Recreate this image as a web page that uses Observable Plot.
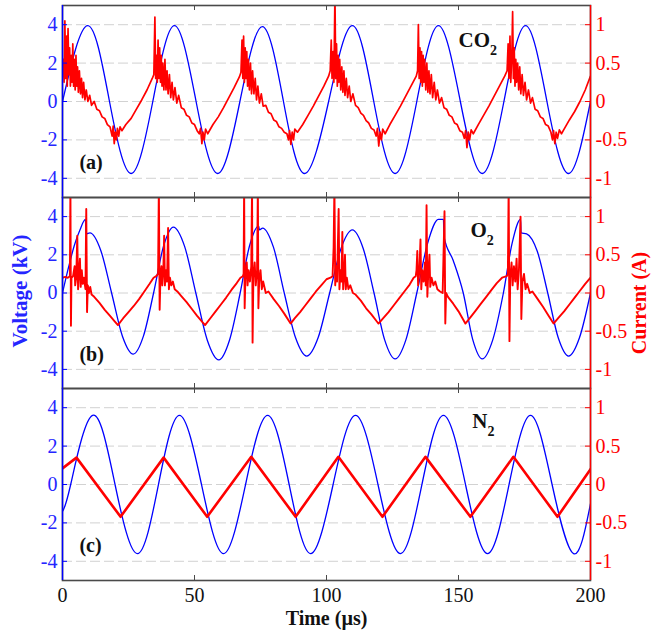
<!DOCTYPE html>
<html><head><meta charset="utf-8">
<script src="https://cdn.jsdelivr.net/npm/d3@7"></script>
<script src="https://cdn.jsdelivr.net/npm/@observablehq/plot@0.6"></script>
<style>
body{margin:0;background:#fff}
#chart{width:652px;height:637px;position:relative;background:#fff}
#chart svg{display:block;overflow:visible;font-family:"Liberation Serif","Times New Roman",serif !important}
#chart svg text{font-family:"Liberation Serif","Times New Roman",serif !important}
</style>
</head><body><div id="chart"></div>
<script>
// ---------- tick labels ----------
const timeDomain = [0, 200];
const timeTicks = [0, 50, 100, 150, 200];
const innerTimeTicks = [50, 100, 150];
const voltageDomain = [-5, 5];
const voltageTicks = [-4, -2, 0, 2, 4];
const currentTicks = [-1, -0.5, 0, 0.5, 1];
const panelTags = ["(a)", "(b)", "(c)"];
const gasNames = ["CO2", "O2", "N2"];
const gasPosT = [150, 154.5, 155.2];
const gasPosV = [3.2, 3.27, 3.3];
const tagPosT = 6.4, tagPosV = -3.2;
const voltageLabel = "Voltage (kV)";
const currentLabel = "Current (A)";
const timeLabel = "Time (µs)";

// ---------- series: [time µs, voltage kV] ----------
const voltageA = [[0,0],[9.6,3.95],[17.8,0],[26,-3.75],[34.2,0],[42.4,3.95],[50.6,0],[58.8,-3.75],[67.2,0],[75.7,3.9],[83.7,0],[91.7,-3.75],[100.8,0],[109.8,3.95],[117.9,0],[126,-3.75],[134.2,0],[142.4,3.95],[150.7,0],[159,-3.75],[167.2,0],[175.4,3.95],[183.5,0],[191.7,-3.75],[200,0]];
const voltageB = [[0,0],[2.3,1.35],[4.5,2.5],[6.6,3.3],[8.7,3.85],[8.9,3.1],[10.4,3.15],[14.5,2.23],[18.6,0],[22.7,-2.26],[26.8,-3.2],[30.65,-2.26],[34.5,0],[38.25,2.44],[42,3.45],[46.25,2.44],[50.5,0],[54.85,-2.47],[59.2,-3.5],[63.25,-2.47],[67.3,0],[70.8,2.45],[74.3,3.5],[74.6,3.3],[75.8,3.4],[79.9,2.4],[84,0],[88.25,-2.33],[92.5,-3.3],[96.85,-2.33],[101.2,0],[105.5,2.33],[109.8,3.3],[113.9,2.33],[118,0],[122,-2.44],[126,-3.45],[130.1,-2.44],[134.2,0],[138.3,2.6],[142.4,3.85],[144.3,3.85],[144.5,2.95],[148,1.7],[151.8,0],[155.4,-2.44],[159,-3.45],[163,-2.44],[167,0],[170.3,2.6],[173.5,3.85],[173.7,3.15],[175.8,3.1],[179.8,2.2],[183.8,0],[187.75,-2.33],[191.7,-3.3],[195.85,-2.33],[200,0]];
const voltageC = [[0,-1.4],[3.1,0],[11.4,3.6],[19.9,0],[28.4,-3.6],[36.35,0],[44.3,3.6],[52.65,0],[61,-3.6],[69.35,0],[77.7,3.6],[85.85,0],[94,-3.6],[102.5,0],[111,3.6],[119.5,0],[128,-3.6],[136.15,0],[144.3,3.6],[152.65,0],[161,-3.6],[169.15,0],[177.3,3.6],[185.45,0],[193.6,-3.6],[200,-1.0]];

// ---------- series: [time µs, current A] ----------
const currentA = [[0,0.33],[0.3,0.55],[0.6,0.25],[0.9,1.05],[1.2,0.3],[1.5,0.85],[1.8,0.2],[2.1,0.95],[2.4,0.35],[2.7,0.7],[3.0,0.2],[3.3,0.6],[3.6,0.25],[3.9,0.75],[4.2,0.2],[4.5,0.55],[4.8,0.15],[5.1,0.6],[5.4,0.2],[5.7,0.45],[6.0,0.12],[6.4,0.4],[6.8,0.1],[7.2,0.3],[7.6,0.05],[8.0,0.25],[8.5,0.02],[9.0,0.15],[9.6,0.0],[10.3,0.08],[11,-0.05],[12,0.0],[13,-0.1],[14,-0.12],[15,-0.2],[16,-0.22],[17,-0.3],[18,-0.33],[18.8,-0.45],[19.2,-0.32],[19.6,-0.55],[20,-0.4],[20.4,-0.5],[20.8,-0.35],[21.3,-0.45],[21.8,-0.33],[22.5,-0.38],
[24,-0.3],[26,-0.22],[28,-0.1],[30,0.02],[32,0.15],[34,0.3],
[34.6,0.35],[35,1.1],[35.3,0.3],[35.6,0.6],[35.9,0.25],[36.2,0.8],[36.5,0.3],[36.8,0.7],[37.1,0.25],[37.4,0.6],[37.7,0.2],[38,0.5],[38.4,0.15],[38.8,0.55],[39.2,0.15],[39.6,0.4],[40,0.1],[40.5,0.35],[41,0.05],[41.5,0.25],[42,0.02],[42.6,0.18],[43.3,-0.02],[44,0.08],[45,-0.08],[46,-0.1],[47,-0.18],[48,-0.2],[49,-0.28],[50,-0.3],[51,-0.38],[51.8,-0.42],[52.3,-0.35],[52.8,-0.55],[53.2,-0.4],[53.7,-0.5],[54.2,-0.36],[55,-0.42],
[57,-0.3],[59,-0.2],[61,-0.08],[63,0.05],[65,0.18],[67,0.32],
[67.6,0.38],[68,0.8],[68.3,0.3],[68.6,0.85],[68.9,0.25],[69.2,0.7],[69.5,0.3],[69.8,0.65],[70.1,0.2],[70.4,0.55],[70.8,0.15],[71.2,0.5],[71.6,0.1],[72,0.4],[72.5,0.1],[73,0.3],[73.5,0.02],[74,0.2],[74.6,-0.02],[75.3,0.1],[76,-0.06],[77,-0.05],[78,-0.14],[79,-0.16],[80,-0.24],[81,-0.26],[82,-0.33],[83,-0.35],[84,-0.4],[85,-0.42],[85.6,-0.5],[86,-0.38],[86.5,-0.56],[87,-0.4],[87.5,-0.5],[88,-0.36],[89,-0.4],
[91,-0.3],[93,-0.18],[95,-0.06],[97,0.07],[99,0.2],[100.8,0.33],
[101.4,0.4],[101.8,0.8],[102.1,0.3],[102.5,0.65],[102.8,0.25],[103.2,1.4],[103.5,0.3],[103.8,0.75],[104.1,0.2],[104.4,0.6],[104.7,0.25],[105,0.55],[105.4,0.15],[105.8,0.45],[106.2,0.12],[106.6,0.4],[107,0.08],[107.5,0.3],[108,0.05],[108.6,0.2],[109.2,0.0],[110,0.1],[111,-0.05],[112,-0.08],[113,-0.15],[114,-0.18],[115,-0.25],[116,-0.28],[117,-0.35],[118,-0.37],[118.8,-0.45],[119.3,-0.35],[119.8,-0.58],[120.3,-0.4],[120.8,-0.5],[121.3,-0.36],[122.2,-0.42],
[124,-0.3],[126,-0.18],[128,-0.06],[130,0.07],[132,0.2],[134,0.33],
[134.5,0.4],[134.8,1.0],[135.1,0.3],[135.4,0.7],[135.7,0.25],[136,0.65],[136.3,0.2],[136.6,0.6],[136.9,0.25],[137.2,0.55],[137.6,0.15],[138,0.5],[138.4,0.12],[138.8,0.4],[139.2,0.1],[139.7,0.35],[140.2,0.05],[140.8,0.25],[141.4,0.02],[142,0.15],[142.8,-0.02],[143.6,0.05],[144.5,-0.08],[145.5,-0.1],[146.5,-0.18],[147.5,-0.2],[148.5,-0.28],[149.5,-0.3],[150.5,-0.38],[151.5,-0.4],[152.2,-0.48],[152.7,-0.38],[153.2,-0.6],[153.7,-0.4],[154.2,-0.5],[154.8,-0.37],[155.6,-0.42],
[157.5,-0.3],[159.5,-0.18],[161.5,-0.06],[163.5,0.07],[165.5,0.2],[167.5,0.33],
[168.4,0.4],[168.8,0.75],[169.1,0.3],[169.5,0.85],[169.8,0.25],[170.2,0.6],[170.5,1.17],[170.8,0.3],[171.1,0.7],[171.4,0.2],[171.7,0.55],[172,0.25],[172.4,0.5],[172.8,0.15],[173.2,0.45],[173.6,0.1],[174.1,0.35],[174.6,0.08],[175.2,0.25],[175.8,0.02],[176.5,0.15],[177.3,-0.02],[178,0.05],[179,-0.1],[180,-0.12],[181,-0.2],[182,-0.22],[183,-0.3],[184,-0.32],[185,-0.4],[185.6,-0.5],[186,-0.38],[186.5,-0.55],[187,-0.4],[187.5,-0.48],[188.2,-0.37],[189,-0.42],
[190,-0.36],[192,-0.24],[194,-0.13],[196,0.0],[198,0.15],[200,0.33]];

const currentB = [[0,0.2],[1,0.21],[2,0.2],[2.8,0.22],[3.0,1.4],[3.2,-0.43],[3.4,0.2],[4,0.22],[4.6,0.35],[4.8,0.1],[5.2,0.2],[5.6,0.75],[5.9,0.05],[6.2,0.25],[6.6,0.45],[6.9,0.08],[7.3,0.3],[7.7,0.12],[8.1,0.2],[8.7,0.05],[9.0,1.1],[9.3,-0.25],[9.6,0.1],[10,0.0],[10.5,0.08],[11,-0.02],[12,-0.05],[14,-0.13],[16,-0.22],[18,-0.3],[20,-0.38],[21,-0.42],
[23,-0.33],[25,-0.25],[27,-0.17],[29,-0.08],[31,0.02],[33,0.12],[34.5,0.2],[35.5,0.22],
[36.2,0.25],[36.5,1.4],[36.8,-0.22],[37.1,0.2],[37.5,0.35],[37.8,0.1],[38.2,0.3],[38.5,0.75],[38.8,0.1],[39.2,0.3],[39.6,0.15],[40.0,0.85],[40.3,0.05],[40.7,0.2],[41.2,0.1],[41.8,0.15],[42.5,0.05],[43.5,0.02],[45,-0.04],[47,-0.12],[49,-0.21],[51,-0.3],[53,-0.38],[54,-0.42],
[56,-0.33],[58,-0.24],[60,-0.15],[62,-0.06],[64,0.04],[66,0.13],[67.4,0.2],[68.3,0.22],
[68.6,0.25],[68.8,1.4],[69.0,-0.2],[69.3,0.22],[69.8,0.4],[70.1,0.1],[70.5,0.3],[71,0.15],[71.5,0.35],[71.8,1.4],[72.0,-0.65],[72.3,0.2],[72.8,0.4],[73.2,0.1],[73.7,0.3],[74.0,1.4],[74.2,-0.2],[74.5,0.15],[75,0.3],[75.5,0.05],[76,0.15],[77,0.0],[78,0.02],[80,-0.08],[82,-0.17],[84,-0.27],[86.4,-0.4],
[88,-0.33],[90,-0.25],[92,-0.16],[94,-0.07],[96,0.02],[98,0.1],[100,0.18],[101.5,0.2],
[102.3,0.22],[102.7,0.6],[103.0,1.4],[103.3,0.1],[103.7,0.35],[104.0,0.15],[104.6,1.1],[104.9,0.05],[105.3,0.3],[105.7,0.15],[106.0,0.8],[106.3,0.05],[106.7,0.25],[107.0,0.5],[107.3,0.05],[107.7,0.2],[108.3,0.05],[109,0.1],[110,0.0],[111,-0.02],[113,-0.1],[115,-0.2],[117,-0.28],[119,-0.37],[119.7,-0.4],
[121.5,-0.33],[123.5,-0.25],[125.5,-0.16],[127.5,-0.07],[129.5,0.02],[131.5,0.11],[133,0.2],[133.8,0.22],
[134.1,0.3],[134.4,0.55],[134.7,0.1],[135.2,0.3],[135.6,0.7],[135.9,0.05],[136.3,0.3],[136.8,0.15],[137.3,0.4],[137.6,0.1],[137.9,1.15],[138.2,-0.05],[138.6,0.3],[139.0,0.5],[139.3,0.08],[139.8,0.2],[140.5,0.1],[141.2,0.15],[142,0.05],[143,0.02],[144,0.0],[144.7,1.07],[145,-0.4],[145.3,0.0],[146,-0.05],[148,-0.14],[150,-0.24],[152.6,-0.4],
[154.5,-0.32],[156.5,-0.23],[158.5,-0.14],[160.5,-0.05],[162.5,0.04],[164.5,0.13],[166.5,0.2],[168.3,0.22],
[168.7,0.25],[169.0,1.4],[169.3,-0.63],[169.6,0.2],[170.1,0.4],[170.5,0.1],[171,0.35],[171.5,0.15],[172,0.45],[172.4,0.05],[172.9,0.3],[173.5,1.0],[173.8,-0.34],[174.2,0.15],[174.8,0.25],[175.4,0.05],[176,0.12],[177,0.0],[178,0.02],[180,-0.08],[182,-0.18],[184,-0.29],[186,-0.4],
[188,-0.32],[190,-0.24],[192,-0.15],[194,-0.06],[196,0.03],[198,0.12],[200,0.2]];

const currentC = [[0,0.21],[5.3,0.35],[22,-0.42],[38.3,0.35],[54.8,-0.42],[71.5,0.36],[88.3,-0.42],[104.5,0.36],[121.2,-0.42],[137.5,0.36],[154.5,-0.42],[170.8,0.36],[187.5,-0.42],[200,0.2]];

// ---------- drawing ----------
const ampToKv = voltageTicks[voltageTicks.length - 1] / currentTicks[currentTicks.length - 1];
const rows = arr => arr.map(([t, v]) => ({t, v}));
const BLUE = "#0000ff", BLUE_TEXT = "#2525ff", RED = "#ff0000", DARK = "#4a4a4a";
const FONT = "Liberation Serif";
const WIDTH = 652, ML = 62, MR = 62, INNER_W = WIDTH - ML - MR;

function panel(o) {
  const innerH = o.height - o.marginTop - o.marginBottom;
  const marks = [
    Plot.gridY(voltageTicks, {stroke: "#b4b4b4", strokeOpacity: 0.6, strokeDasharray: "10,4"}),
    Plot.line(rows(o.voltage), {x: "t", y: "v", stroke: BLUE, strokeWidth: 1.3, curve: o.curve, clip: true}),
    Plot.line(rows(o.current), {x: "t", y: d => d.v * ampToKv, stroke: RED, strokeWidth: o.cw, clip: true, strokeLinejoin: "round"}),
    Plot.frame({stroke: DARK, strokeWidth: 1.6}),
    Plot.ruleX([timeDomain[0]], {stroke: BLUE, strokeWidth: 1.4}),
    Plot.ruleX([timeDomain[1]], {stroke: RED, strokeWidth: 1.4}),
    Plot.ruleY(voltageTicks, {stroke: BLUE, insetRight: INNER_W - 5}),
    Plot.ruleY(currentTicks.map(c => c * ampToKv), {stroke: RED, insetLeft: INNER_W - 5}),
    Plot.ruleX(innerTimeTicks, {stroke: DARK, insetBottom: innerH - 5}),
    Plot.ruleX(innerTimeTicks, {stroke: DARK, insetTop: innerH - 5}),
    Plot.axisY(voltageTicks, {anchor: "left", tickSize: 0, tickPadding: 5, tickFormat: d => String(d), color: BLUE_TEXT, fontSize: 20, fontFamily: FONT, label: null}),
    Plot.axisY(currentTicks.map(c => c * ampToKv), {anchor: "right", tickSize: 0, tickPadding: 5, tickFormat: d => String(d / ampToKv), color: RED, fontSize: 20, fontFamily: FONT, label: null}),
    Plot.text([{t: tagPosT, v: tagPosV, s: o.tag}], {x: "t", y: "v", text: "s", textAnchor: "start", fontWeight: "bold", fontSize: 20, fontFamily: FONT, fill: "#111"}),
    Plot.text([{t: o.gasT, v: o.gasV, s: o.gas}], {x: "t", y: "v", text: "s", textAnchor: "start", fontWeight: "bold", fontSize: 21, fontFamily: FONT, fill: "#111"})
  ];
  if (o.bottomAxis) {
    marks.push(Plot.axisX(timeTicks, {anchor: "bottom", tickSize: 0, tickPadding: 7, fontSize: 20, fontFamily: FONT, color: "#111", label: null}));
    marks.push(Plot.text([timeLabel], {frameAnchor: "bottom", textAnchor: "middle", dy: 44, text: d => d, fontWeight: "bold", fontSize: 20, fontFamily: FONT, fill: "#111"}));
  }
  if (o.axisTitles) {
    marks.push(Plot.text([voltageLabel], {frameAnchor: "left", textAnchor: "middle", dx: -42, dy: -2, rotate: -90, text: d => d, fontWeight: "bold", fontSize: 21, fontFamily: FONT, fill: BLUE_TEXT}));
    marks.push(Plot.text([currentLabel], {frameAnchor: "right", textAnchor: "middle", dx: 49, dy: 10, rotate: -90, text: d => d, fontWeight: "bold", fontSize: 20, fontFamily: FONT, fill: RED}));
  }
  const svg = Plot.plot({
    width: WIDTH, height: o.height,
    marginLeft: ML, marginRight: MR, marginTop: o.marginTop, marginBottom: o.marginBottom,
    x: {domain: timeDomain, axis: o.bottomAxis ? undefined : null},
    y: {domain: voltageDomain},
    style: {fontFamily: FONT, background: "transparent", overflow: "visible"},
    marks
  });
  // subscript for gas formulas
  d3.select(svg).selectAll("text").each(function () {
    const s = this.textContent;
    if (gasNames.includes(s)) {
      this.textContent = s.slice(0, -1);
      d3.select(this).append("tspan").attr("dy", 8).attr("font-size", 14).text(s.slice(-1));
    }
  });
  return svg;
}

const chart = document.getElementById("chart");
chart.appendChild(panel({voltage: voltageA, current: currentA, curve: "natural", cw: 1.7, tag: panelTags[0], gas: gasNames[0], gasT: gasPosT[0], gasV: gasPosV[0], height: 197, marginTop: 5, marginBottom: 0}));
chart.appendChild(panel({voltage: voltageB, current: currentB, curve: "monotone-x", cw: 1.9, tag: panelTags[1], gas: gasNames[1], gasT: gasPosT[1], gasV: gasPosV[1], height: 191, marginTop: 0, marginBottom: 0, axisTitles: true}));
chart.appendChild(panel({voltage: voltageC, current: currentC, curve: "natural", cw: 2.6, tag: panelTags[2], gas: gasNames[2], gasT: gasPosT[2], gasV: gasPosV[2], height: 249, marginTop: 0, marginBottom: 57, bottomAxis: true}));
</script>
</body></html>
